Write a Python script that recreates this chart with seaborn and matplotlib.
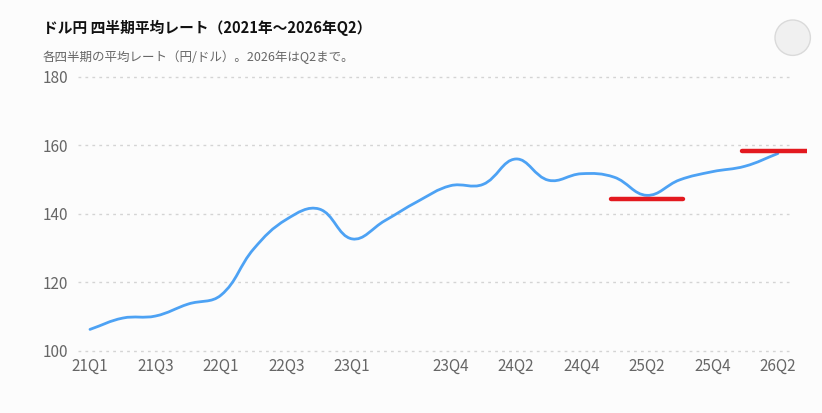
import matplotlib.pyplot as plt
import seaborn as sns
import numpy as np
from matplotlib.path import Path
from matplotlib.patches import PathPatch, Circle
from matplotlib.transforms import Bbox, TransformedBbox, IdentityTransform


quarters = ['21Q1', '21Q2', '21Q3', '21Q4', '22Q1', '22Q2', '22Q3', '22Q4',
            '23Q1', '23Q2', '23Q3', '23Q4', '24Q1', '24Q2', '24Q3', '24Q4',
            '25Q1', '25Q2', '25Q3', '25Q4', '26Q1', '26Q2']
rate = [106.3, 109.6, 110.2, 113.7, 116.3, 129.8, 138.4, 141.4,
        132.7, 138.0, 143.6, 148.2, 148.6, 156.0, 149.8, 151.7,
        150.7, 145.4, 149.9, 152.3, 153.9, 157.6]
tick_labels = ['21Q1', '21Q3', '22Q1', '22Q3', '23Q1', '23Q4',
               '24Q2', '24Q4', '25Q2', '25Q4', '26Q2']
mark_q = ['25Q2', '26Q2']
mark_v = [144.2, 158.2]

title = 'ドル円 四半期平均レート（2021年～2026年Q2）'
subtitle = '各四半期の平均レート（円/ドル）。2026年はQ2まで。'

sns.set_theme(style='white')
plt.rcParams['font.family'] = ['Noto Sans CJK JP', 'DejaVu Sans']

W, H = 822, 413
bg = '#fcfcfc'
fig = plt.figure(figsize=(W / 100, H / 100), dpi=100, facecolor=bg)
ax = fig.add_axes([77.6 / W, (H - 351) / H, (789 - 77.6) / W, (351 - 76.7) / H])
ax.set_facecolor(bg)

xs = np.arange(len(quarters), dtype=float)
ys = np.array(rate)

# smooth curve like chart.js (tension 0.4), computed in pixel space
sx, sy = 32.76, 3.43
t = 0.4
px, py = xs * sx, ys * sy
cp_in, cp_out = [], []
for i in range(len(xs)):
    p0 = (px[max(i - 1, 0)], py[max(i - 1, 0)])
    p1 = (px[i], py[i])
    p2 = (px[min(i + 1, len(xs) - 1)], py[min(i + 1, len(xs) - 1)])
    d01 = np.hypot(p1[0] - p0[0], p1[1] - p0[1])
    d12 = np.hypot(p2[0] - p1[0], p2[1] - p1[1])
    s01 = d01 / (d01 + d12) if d01 + d12 else 0
    s12 = d12 / (d01 + d12) if d01 + d12 else 0
    fa, fb = t * s01, t * s12
    cp_in.append(((p1[0] - fa * (p2[0] - p0[0])) / sx, (p1[1] - fa * (p2[1] - p0[1])) / sy))
    cp_out.append(((p1[0] + fb * (p2[0] - p0[0])) / sx, (p1[1] + fb * (p2[1] - p0[1])) / sy))

verts = [(xs[0], ys[0])]
codes = [Path.MOVETO]
for i in range(1, len(xs)):
    verts += [cp_out[i - 1], cp_in[i], (xs[i], ys[i])]
    codes += [Path.CURVE4] * 3
ax.add_patch(PathPatch(Path(verts, codes), facecolor='none', edgecolor='#4da2f4',
                       lw=2.0, capstyle='round', joinstyle='round', zorder=3))

# red markers
clip = TransformedBbox(Bbox([[0, 0], [806.5 / W, 1]]), fig.transFigure)
for q, v in zip(mark_q, mark_v):
    i = quarters.index(q)
    ln = ax.hlines(v, i - 1.1, i + 1.1, colors='#e3191f', lw=3.2, zorder=4,
                   clip_on=False)
    ln.set_clip_box(clip)
    ln.set_clip_on(True)
    ln.set_capstyle('round')

ax.set_xlim(-0.378, 21.34)
ax.set_ylim(100, 180)
ax.set_yticks([100, 120, 140, 160, 180])
ax.set_xticks([quarters.index(q) for q in tick_labels])
ax.set_xticklabels(tick_labels)
ax.tick_params(axis='both', length=0, labelsize=11, colors='#666666')
ax.tick_params(axis='y', pad=7)
ax.tick_params(axis='x', pad=5)
for yv in [100, 120, 140, 160, 180]:
    ax.axhline(yv, color='#d4d4d4', lw=1, ls=(0, (2, 3)), zorder=1, clip_on=False)
ax.grid(False)
for s in ax.spines.values():
    s.set_visible(False)

fig.text(43 / W, 1 - 28 / H, title, fontsize=10.6, fontweight='bold',
         color='#111111', va='center', ha='left')
fig.text(43 / W, 1 - 57.5 / H, subtitle, fontsize=9, color='#666666',
         va='center', ha='left')

fig.add_artist(Circle((792.7, H - 37.7), 17.7, transform=IdentityTransform(),
                      facecolor='#f0f0f0', edgecolor='#dadada', lw=1))

fig.savefig('out.png', dpi=100, facecolor=bg)
